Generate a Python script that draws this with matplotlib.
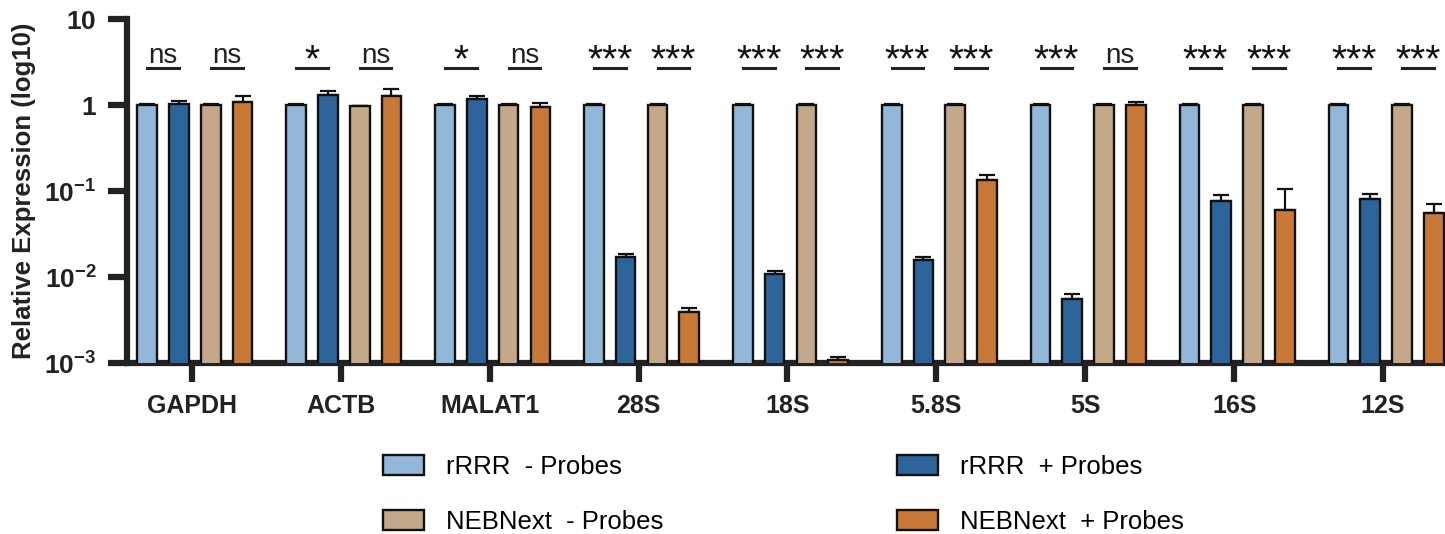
import numpy as np
import matplotlib
matplotlib.use("Agg")
import matplotlib.pyplot as plt
from matplotlib import transforms

plt.rcParams['font.family'] = ['Liberation Sans', 'DejaVu Sans']
plt.rcParams['mathtext.fontset'] = 'custom'
plt.rcParams['mathtext.rm'] = 'Liberation Sans'
plt.rcParams['mathtext.bf'] = 'Liberation Sans:bold'

groups = ['GAPDH', 'ACTB', 'MALAT1', '28S', '18S', '5.8S', '5S', '16S', '12S']
series = ['rRRR  - Probes', 'rRRR  + Probes', 'NEBNext  - Probes', 'NEBNext  + Probes']

rrrr_minus = [1.0, 1.0, 1.0, 1.0, 1.0, 1.0, 1.0, 1.0, 1.0]
rrrr_minus_err = [0.02, 0.02, 0.02, 0.02, 0.02, 0.02, 0.02, 0.02, 0.02]
rrrr_plus = [1.03, 1.31, 1.17, 0.0169, 0.0108, 0.0159, 0.00555, 0.077, 0.080]
rrrr_plus_err = [0.09, 0.16, 0.11, 0.0015, 0.0009, 0.0013, 0.00085, 0.013, 0.012]
neb_minus = [1.0, 0.98, 1.0, 1.0, 1.0, 1.0, 1.0, 1.0, 1.0]
neb_minus_err = [0.02, 0.0, 0.02, 0.02, 0.02, 0.02, 0.02, 0.02, 0.02]
neb_plus = [1.07, 1.27, 0.94, 0.00395, 0.00107, 0.134, 1.0, 0.060, 0.056]
neb_plus_err = [0.22, 0.25, 0.11, 0.00045, 0.0001, 0.019, 0.07, 0.046, 0.014]

sig_rrrr = ['ns', '*', '*', '***', '***', '***', '***', '***', '***']
sig_neb = ['ns', 'ns', 'ns', '***', '***', '***', 'ns', '***', '***']

colors = ['#93B7D8', '#2C6399', '#C4A88A', '#C87837']
values = [rrrr_minus, rrrr_plus, neb_minus, neb_plus]
errors = [rrrr_minus_err, rrrr_plus_err, neb_minus_err, neb_plus_err]

fig = plt.figure(figsize=(14.45, 5.34), dpi=100)
ax = fig.add_axes([0.0879, 0.3202, 0.9121, 0.6442])

x = np.arange(len(groups))
offsets = [-0.32, -0.107, 0.107, 0.32]
shift = 0.02
width = 0.132
base = 1e-4

handles = []
for vals, errs, col, off, lab in zip(values, errors, colors, offsets, series):
    vals = np.array(vals)
    b = ax.bar(x + off + shift, vals - base, width, bottom=base, color=col,
               edgecolor='#111111', linewidth=1.7, label=lab, zorder=3)
    handles.append(b)
    ax.errorbar(x + off + shift, vals, yerr=[np.zeros(len(vals)), errs], fmt='none',
                ecolor='#111111', elinewidth=1.6, capsize=6, capthick=1.6, zorder=2)

ax.set_yscale('log')
ax.set_ylim(1e-3, 10)
ax.set_xlim(-0.436, 8.416)

ax.set_yticks([1e-3, 1e-2, 1e-1, 1, 10])
ax.set_yticklabels([r'$\mathbf{10^{-3}}$', r'$\mathbf{10^{-2}}$', r'$\mathbf{10^{-1}}$',
                    r'$\mathbf{1}$', r'$\mathbf{10}$'], fontsize=19)
ax.yaxis.set_minor_locator(matplotlib.ticker.NullLocator())
ax.set_xticks(x)
ax.set_xticklabels(groups, fontsize=18, fontweight='bold', color='#222222')
ax.tick_params(axis='both', length=14, width=4.5, color='#222222', pad=8)
ax.tick_params(axis='y', labelcolor='#222222')

for side in ['top', 'right']:
    ax.spines[side].set_visible(False)
for side in ['left', 'bottom']:
    ax.spines[side].set_linewidth(4.5)
    ax.spines[side].set_color('#222222')

ax.set_ylabel('Relative Expression (log10)', fontsize=18.5, fontweight='bold',
              color='#222222', labelpad=6)

trans = transforms.blended_transform_factory(ax.transData, ax.transAxes)
for i in range(len(groups)):
    for lab, (o1, o2) in zip([sig_rrrr[i], sig_neb[i]], [(offsets[0], offsets[1]), (offsets[2], offsets[3])]):
        x1 = i + o1 + shift
        x2 = i + o2 + shift
        ax.plot([x1, x2], [0.859, 0.859], color='#222222', lw=2.2, transform=trans, clip_on=False)
        if lab == 'ns':
            ax.text((x1 + x2) / 2, 0.872, lab, ha='center', va='baseline', fontsize=20,
                    color='#222222', transform=trans)
        else:
            ax.text((x1 + x2) / 2, 0.848, lab, ha='center', va='baseline', fontsize=28,
                    color='#111111', transform=trans)

leg_kw = dict(frameon=False, fontsize=18.5, handlelength=1.6, handleheight=0.85,
              handletextpad=0.85, labelspacing=1.2, borderpad=0, borderaxespad=0,
              loc='upper left')
leg1 = fig.legend([handles[0], handles[2]], [series[0], series[2]],
                  bbox_to_anchor=(383 / 1445, 1 - 455 / 534), **leg_kw)
leg2 = fig.legend([handles[1], handles[3]], [series[1], series[3]],
                  bbox_to_anchor=(897 / 1445, 1 - 455 / 534), **leg_kw)

fig.savefig('out.png', dpi=100)
